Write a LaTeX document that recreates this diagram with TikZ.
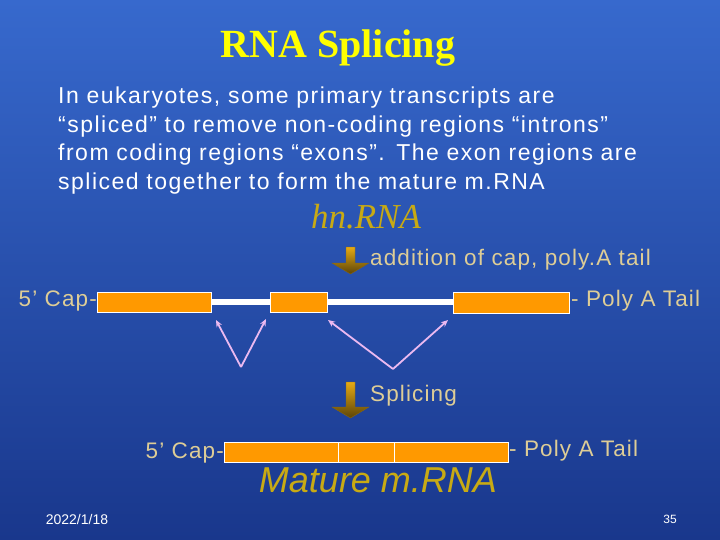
\documentclass[tikz,border=0pt]{standalone}
\usepackage{fontspec}
\usetikzlibrary{arrows.meta}
\setmainfont{Liberation Serif}
\setsansfont{Liberation Sans}
\begin{document}
\begin{tikzpicture}[x=1pt,y=-1pt,
  tan/.style={text=tanc,font=\sffamily\fontsize{22.5}{24}\selectfont\addfontfeature{LetterSpace=5}},
  exon/.style={draw=white,fill=exonc,line width=0.8pt},
  loop/.style={draw=pinkc,line width=1.8pt,-{Stealth[length=7pt,width=6pt]}},
  gold/.style={draw=goldc!60!black,top color=goldc,bottom color=goldc!40!black,line width=0.4pt}]
\definecolor{tanc}{RGB}{222,205,150}
\definecolor{exonc}{RGB}{255,153,0}
\definecolor{pinkc}{RGB}{235,185,240}
\definecolor{goldc}{RGB}{230,170,20}
\path[use as bounding box,top color={rgb,255:red,55;green,105;blue,205},bottom color={rgb,255:red,25;green,55;blue,140}] (0,0) rectangle (720,540);
\node[text={rgb,255:red,255;green,255;blue,0},font=\bfseries\fontsize{40}{44}\selectfont] (title) at (338,48) {RNA Splicing};
\node[anchor=north west,inner sep=0,text=white,font=\sffamily\fontsize{23}{28.4}\selectfont\addfontfeature{LetterSpace=6.5},align=left,text width=700] (body) at (58,87)
{In eukaryotes, some primary transcripts are\\ “spliced” to remove non-coding regions “introns”\\ from coding regions “exons”. The exon regions are\\ spliced together to form the mature m.RNA};
\node[text={rgb,255:red,200;green,170;blue,20},font=\itshape\fontsize{35}{40}\selectfont] (hn) at (366,217) {hn.RNA};
% arrow 1
\path[gold] (346,247) -- (355,247) -- (355,263) -- (369,263) -- (350.5,274) -- (332,263) -- (346,263) -- cycle;
\node[tan,anchor=west,inner sep=0] (add) at (370,260) {addition of cap, poly.A tail};
% pre-mRNA
\draw[white,line width=6pt] (211,302) -- (453,302);
\node[exon,minimum width=114,minimum height=20,inner sep=0,anchor=north west] (e1) at (97,292) {};
\node[exon,minimum width=57,minimum height=20,inner sep=0,anchor=north west] (e2) at (270,292) {};
\node[exon,minimum width=116,minimum height=21,inner sep=0,anchor=north west] (e3) at (453,292) {};
\node[tan,anchor=east,inner sep=0] (cap1) at (97,301) {5’ Cap-};
\node[tan,anchor=west,inner sep=0] (tail1) at (571,301) {- Poly A Tail};
\coordinate (v1) at (241,367);
\coordinate (v2) at (393,369);
\draw[loop] (v1) -- (216,320);
\draw[loop] (v1) -- (266,319);
\draw[loop] (v2) -- (328,320);
\draw[loop] (v2) -- (448,320);
% arrow 2
\path[gold] (346,382) -- (355,382) -- (355,407) -- (369,407) -- (350.5,418) -- (332,407) -- (346,407) -- cycle;
\node[tan,anchor=west,inner sep=0] (spl) at (370,396) {Splicing};
% mature
\node[exon,minimum width=114,minimum height=20,inner sep=0,anchor=north west] (m1) at (224,442) {};
\node[exon,minimum width=56,minimum height=20,inner sep=0,anchor=north west] (m2) at (338,442) {};
\node[exon,minimum width=114,minimum height=20,inner sep=0,anchor=north west] (m3) at (394,442) {};
\node[tan,anchor=east,inner sep=0] (cap2) at (224,453) {5’ Cap-};
\node[tan,anchor=west,inner sep=0] (tail2) at (509,451) {- Poly A Tail};
\node[text={rgb,255:red,200;green,170;blue,20},font=\sffamily\itshape\fontsize{36}{40}\selectfont] (mat) at (378,480) {Mature m.RNA};
\node[text=white,font=\sffamily\fontsize{14}{16}\selectfont] (date) at (77,519) {2022/1/18};
\node[text=white,font=\sffamily\fontsize{12}{14}\selectfont] (pg) at (670,519) {35};
\end{tikzpicture}
\end{document}
